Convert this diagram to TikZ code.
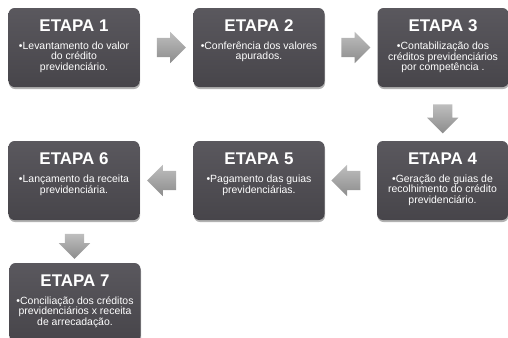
\documentclass[tikz,border=0pt]{standalone}
\usepackage{fontspec}
\setmainfont{Liberation Sans}
\usepackage{tikz}
\usetikzlibrary{positioning,calc,shapes.arrows,shadows}
\usepackage{xcolor}
\definecolor{caixaTopo}{HTML}{5A585E}
\definecolor{caixaBase}{HTML}{47454A}
\definecolor{setaClara}{HTML}{BEBEBE}
\definecolor{setaEscura}{HTML}{8C8C8C}

\begin{document}
\begin{tikzpicture}[x=1bp, y=1bp,
      etapa/.style={rectangle, rounded corners=6bp, top color=caixaTopo, bottom color=caixaBase,
        minimum width=131bp, minimum height=79bp, inner sep=0pt,
        drop shadow={shadow xshift=0.5bp, shadow yshift=-2bp, opacity=.3, fill=black}},
      titulo/.style={text=white, font=\fontsize{17}{20}\selectfont\bfseries, inner sep=0pt, anchor=base},
      texto/.style={text=white, font=\fontsize{10.5}{10.6}\selectfont, align=center, inner sep=0pt,
        execute at begin node=\rule{0pt}{9bp}},
      seta/.style={single arrow, single arrow head extend=6bp, inner xsep=0pt, inner ysep=9.5bp,
        minimum height=29bp, top color=setaClara, bottom color=setaEscura}
    ]
    \useasboundingbox (0,0) rectangle (508,-337);
    \clip (0,0) rectangle (508,-337);
    % caixas das etapas
    \node[etapa] (e1) at (74,-47.5) {};
    \node[etapa] (e2) at (259,-47.5) {};
    \node[etapa] (e3) at (443,-47.5) {};
    \node[etapa] (e4) at (442.5,-180.5) {};
    \node[etapa] (e5) at (259,-180.5) {};
    \node[etapa] (e6) at (74,-180.5) {};
    \node[etapa] (e7) at (75,-302.5) {};
    \node[titulo] (t1) at ([yshift=-23.5bp]e1.north) {ETAPA 1};
    \node[titulo] (t2) at ([yshift=-23.5bp]e2.north) {ETAPA 2};
    \node[titulo] (t3) at ([yshift=-23.5bp]e3.north) {ETAPA 3};
    \node[titulo] (t4) at ([yshift=-23.5bp]e4.north) {ETAPA 4};
    \node[titulo] (t5) at ([yshift=-23.5bp]e5.north) {ETAPA 5};
    \node[titulo] (t6) at ([yshift=-23.5bp]e6.north) {ETAPA 6};
    \node[titulo] (t7) at ([yshift=-23.5bp]e7.north) {ETAPA 7};
    \node[texto, below=10bp of t1] (b1) {•Levantamento do valor\\do crédito\\previdenciário.};
    \node[texto, below=10bp of t2] (b2) {•Conferência dos valores\\apurados.};
    \node[texto, below=10bp of t3] (b3) {•Contabilização dos\\créditos previdenciários\\por competência .};
    \node[texto, below=10bp of t4] (b4) {•Geração de guias de\\recolhimento do crédito\\previdenciário.};
    \node[texto, below=10bp of t5] (b5) {•Pagamento das guias\\previdenciárias.};
    \node[texto, below=10bp of t6] (b6) {•Lançamento da receita\\previdenciária.};
    \node[texto, below=10bp of t7] (b7) {•Conciliação dos créditos\\previdenciários x receita\\de arrecadação.};
    % setas entre as etapas
    \node[seta] (s12) at ($(e1.east)!0.5!(e2.west)$) {};
    \node[seta] (s23) at ($(e2.east)!0.5!(e3.west)$) {};
    \node[seta, rotate=-90] (s34) at ($(e3.south)!0.5!(e4.north)$) {};
    \node[seta, rotate=180] (s45) at ($(e4.west)!0.5!(e5.east)$) {};
    \node[seta, rotate=180] (s56) at ($(e5.west)!0.5!(e6.east)$) {};
    \node[seta, rotate=-90, minimum height=25bp] (s67) at ($(e6.south)!0.5!(e7.north)$) {};
  \end{tikzpicture}
\end{document}
